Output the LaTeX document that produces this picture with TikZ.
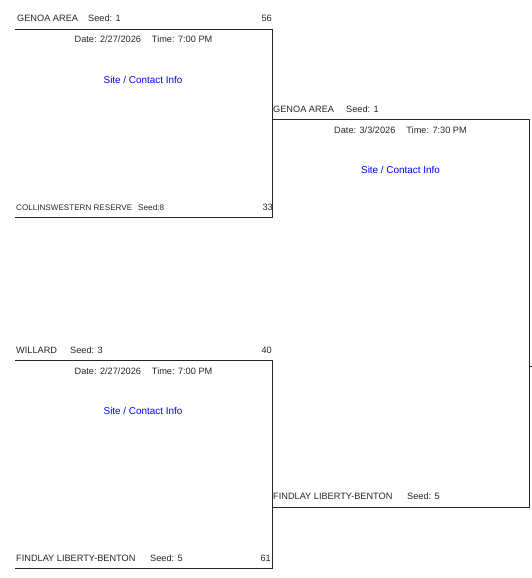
\documentclass[tikz,border=0pt]{standalone}
\usepackage{fontspec}
\setmainfont{Liberation Sans}
\begin{document}
\begin{tikzpicture}[x=1pt,y=-1pt,
  txt/.style={inner sep=0pt,font=\fontsize{9.2}{11}\selectfont,text=black!85},
  site/.style={inner sep=0pt,font=\fontsize{9.9}{12}\selectfont,text={rgb,255:red,0;green,0;blue,255}},
  bline/.style={draw=black!85,line width=0.9pt}]
\useasboundingbox (0,0) rectangle (532,578);
% corners
\coordinate (a1) at (15,29); \coordinate (a2) at (272,29);
\coordinate (a3) at (272,217); \coordinate (a4) at (15,217);
\coordinate (b1) at (272,119); \coordinate (b2) at (529,119);
\coordinate (b3) at (529,507); \coordinate (b4) at (272,507);
\coordinate (c1) at (15,360); \coordinate (c2) at (272,360);
\coordinate (c3) at (272,568); \coordinate (c4) at (15,568);
\coordinate (t1) at (529,366); \coordinate (t2) at (532,366);
\draw[bline] (a1) -- (a2) -- (a3) -- (a4);
\draw[bline] (b1) -- (b2) -- (b3) -- (b4);
\draw[bline] (c1) -- (c2) -- (c3) -- (c4);
\draw[bline] (t1) -- (t2);
% game 1
\node[txt,anchor=base west] (g1a) at (17,22) {GENOA AREA};
\node[txt,anchor=base west] (g1as) at (88,22) {Seed: 1};
\node[txt,anchor=base east] (g1ascore) at (272,22) {56};
\node[txt,anchor=base] (g1d) at (143.5,43) {Date: 2/27/2026\hspace{11pt}Time: 7:00 PM};
\node[site,anchor=base] (g1s) at (143,83) {Site / Contact Info};
\node[txt,anchor=base west] (g1b) at (16,210) {\fontsize{8.1}{10}\selectfont COLLINSWESTERN RESERVE};
\node[txt,anchor=base west] (g1bs) at (138,210) {\fontsize{8.2}{10}\selectfont Seed:8};
\node[txt,anchor=base east] (g1bscore) at (273,210) {33};
% game 2
\node[txt,anchor=base west] (g2a) at (273,112) {GENOA AREA};
\node[txt,anchor=base west] (g2as) at (346,112) {Seed: 1};
\node[txt,anchor=base] (g2d) at (400.5,133) {Date: 3/3/2026\hspace{11pt}Time: 7:30 PM};
\node[site,anchor=base] (g2s) at (400.5,173) {Site / Contact Info};
\node[txt,anchor=base west] (g2b) at (273,499) {FINDLAY LIBERTY-BENTON};
\node[txt,anchor=base west] (g2bs) at (407,499) {Seed: 5};
% game 3
\node[txt,anchor=base west] (g3a) at (16,353) {WILLARD};
\node[txt,anchor=base west] (g3as) at (70,353) {Seed: 3};
\node[txt,anchor=base east] (g3ascore) at (272,353) {40};
\node[txt,anchor=base] (g3d) at (143.5,374) {Date: 2/27/2026\hspace{11pt}Time: 7:00 PM};
\node[site,anchor=base] (g3s) at (143,414) {Site / Contact Info};
\node[txt,anchor=base west] (g3b) at (16,561) {FINDLAY LIBERTY-BENTON};
\node[txt,anchor=base west] (g3bs) at (150,561) {Seed: 5};
\node[txt,anchor=base east] (g3bscore) at (271,561) {61};
\end{tikzpicture}
\end{document}
